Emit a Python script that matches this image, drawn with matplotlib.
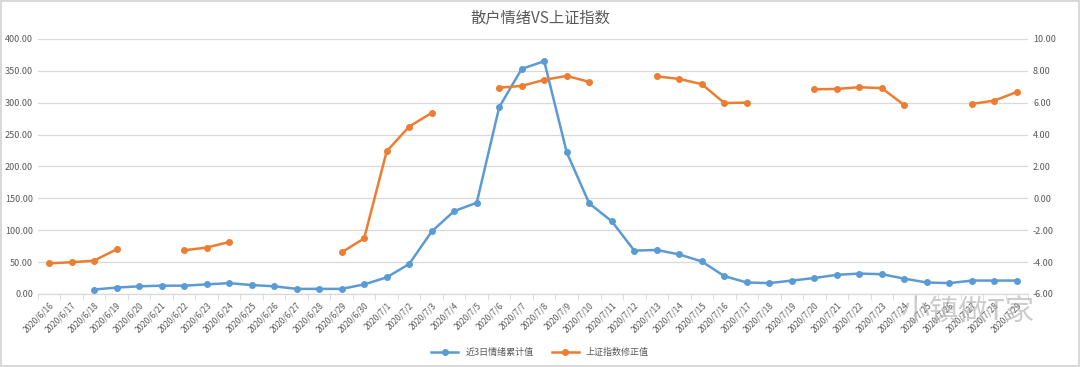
import numpy as np
import matplotlib
matplotlib.use('Agg')
import matplotlib.pyplot as plt

plt.rcParams['font.family'] = ['Noto Sans CJK SC', 'DejaVu Sans']

# 날짜 (x축)
dates = ['2020/6/%d' % d for d in range(16, 31)] + ['2020/7/%d' % d for d in range(1, 30)]

# 近3日情绪累计值 (左轴)
mood = [np.nan, np.nan, 7, 10, 12, 13, 13, 15, 17, 14, 12, 8, 8, 8, 15,
        26, 47, 98, 130, 143, 293, 353, 365, 222, 142, 114, 68, 69, 62, 51,
        28, 18, 17, 21, 25, 30, 32, 31, 24, 18, 17, 21, 21, 21]

# 上证指数修正值 (右轴)
index_adj = [-4.08, -4.01, -3.91, -3.20, np.nan, np.nan, -3.26, -3.09, -2.74, np.nan,
             np.nan, np.nan, np.nan, -3.39, -2.51, 2.95, 4.50, 5.36, np.nan, np.nan,
             6.94, 7.05, 7.43, 7.68, 7.30, np.nan, np.nan, 7.65, 7.49, 7.16,
             5.98, 6.00, np.nan, np.nan, 6.84, 6.86, 6.97, 6.91, 5.84, np.nan,
             np.nan, 5.92, 6.13, 6.67]

blue = '#5B9BD5'
orange = '#ED7D31'
grid_c = '#D9D9D9'
txt_c = '#595959'

fig = plt.figure(figsize=(10.8, 3.67), dpi=100)
fig.patch.set_edgecolor('#D9D9D9')
fig.patch.set_linewidth(1.5)
ax = fig.add_axes([0.035, 0.199, 0.917, 0.695])
ax2 = ax.twinx()

x = np.arange(len(dates))
l1, = ax.plot(x, mood, color=blue, lw=1.8, marker='o', ms=4, label='近3日情绪累计值', zorder=3)
l2, = ax2.plot(x, index_adj, color=orange, lw=1.8, marker='o', ms=4, label='上证指数修正值', zorder=3)

ax.set_ylim(0, 400)
ax.set_yticks(np.arange(0, 401, 50))
ax.set_yticklabels(['%.2f' % v for v in np.arange(0, 401, 50)])
ax2.set_ylim(-6, 10)
ax2.set_yticks(np.arange(-6, 11, 2))
ax2.set_yticklabels(['%.2f' % v for v in np.arange(-6, 11, 2)])

ax.set_xlim(-0.5, len(dates) - 0.5)
ax.set_xticks(x)
ax.set_xticklabels(dates, rotation=45, ha='right', rotation_mode='anchor', fontsize=6, color=txt_c)
ax.tick_params(axis='x', length=0, pad=5)
ax.set_xticks(np.arange(-0.5, len(dates), 1), minor=True)
ax.tick_params(axis='x', which='minor', length=4, color=grid_c)

ax.yaxis.grid(True, color=grid_c, lw=0.9)
ax.set_axisbelow(True)
for a in (ax, ax2):
    for s in ['top', 'left', 'right']:
        a.spines[s].set_visible(False)
    a.spines['bottom'].set_color(grid_c)
    a.tick_params(axis='y', length=0, labelsize=6.5, labelcolor=txt_c)

fig.suptitle('散户情绪VS上证指数', y=0.975, fontsize=11, color=txt_c)
fig.legend(handles=[l1, l2], loc='lower center', bbox_to_anchor=(0.5, 0.005), ncol=2,
           frameon=False, fontsize=6.5, labelcolor=txt_c, handlelength=3, columnspacing=2)

# 워터마크
fig.text(0.895, 0.148, '小镇做T家', fontsize=21, color='#AAAAAA', alpha=0.6, ha='center', va='center')

fig.savefig('out.png', dpi=100)
